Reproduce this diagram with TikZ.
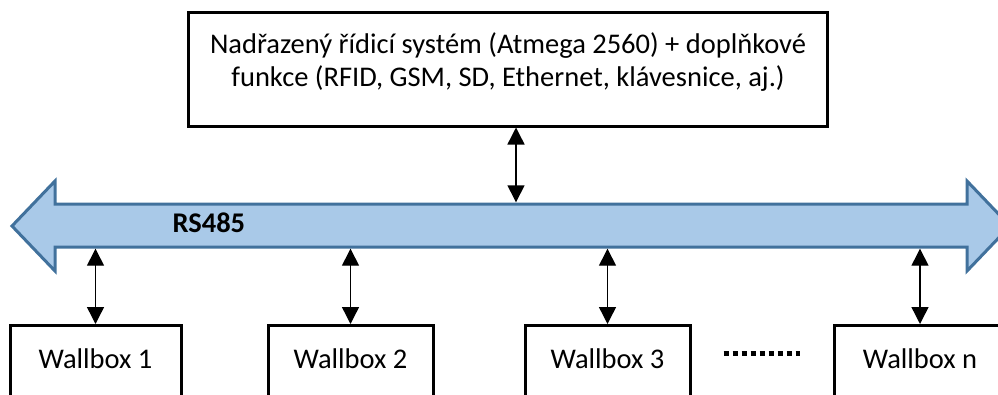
\documentclass[tikz,border=0pt]{standalone}
\usepackage{fontspec}
\setmainfont{Carlito}
\usetikzlibrary{arrows.meta, positioning, calc}
\definecolor{cbusfill}{HTML}{A9C9E8}
\definecolor{cbusline}{HTML}{41719C}
\tikzset{
  every picture/.style={x=1pt, y=-1pt, font=\fontsize{28.5}{33}\selectfont},
  box/.style={draw=black, line width=3pt, align=center, inner sep=0pt},
  wallbox/.style={box, minimum width=#1, anchor=north, text height=43pt, text depth=60pt},
  wallbox/.default=165pt,
  link/.style={{Triangle[length=17pt, width=17pt]}-{Triangle[length=17pt, width=17pt]}, line width=1.4pt},
  bus/.style={draw=cbusline, fill=cbusfill, line width=3pt, line join=miter},
  dotsline/.style={line width=5pt, dash pattern=on 5pt off 4pt},
}

\begin{document}
\begin{tikzpicture}
  \path[use as bounding box, clip] (0,0) rectangle (998,394);
  % master unit
  \node[box, minimum width=639pt, minimum height=114pt, text depth=19pt] (master) at (508,69)
    {Nadřazený řídicí systém (Atmega 2560) + doplňkové\\funkce (RFID, GSM, SD, Ethernet, klávesnice, aj.)};
  % RS485 bus as a double arrow
  \draw[bus] (12,226) -- (55,181) -- (55,204) -- (967,204) -- (967,181)
    -- (1010,226) -- (967,271) -- (967,247) -- (55,247) -- (55,271) -- cycle;
  \node[minimum width=912pt, minimum height=46pt, inner sep=0pt] (bus) at (511,225.5) {};
  \node[font=\fontsize{28.5}{33}\selectfont\bfseries, anchor=base west] (buslabel) at (169,232) {RS485};
  % wallboxes
  \node[wallbox=171pt] (w1) at (95.5,324) {Wallbox 1};
  \node[wallbox] (w2) at (350.5,324) {Wallbox 2};
  \node[wallbox] (w3) at (607.5,324) {Wallbox 3};
  \node[wallbox=171pt] (wn) at (920,324) {Wallbox n};
  \draw[dotsline, shorten <=32pt, shorten >=33pt] ($(w3.north east)+(0,29)$) -- ($(wn.north west)+(0,29)$);
  % links to the bus
  \draw[link] (master.south -| 516,0) -- (bus.north -| 516,0);
  \foreach \w in {w1, w2, w3, wn}
    \draw[link] (bus.south -| \w.north) -- (\w.north);
\end{tikzpicture}
\end{document}
